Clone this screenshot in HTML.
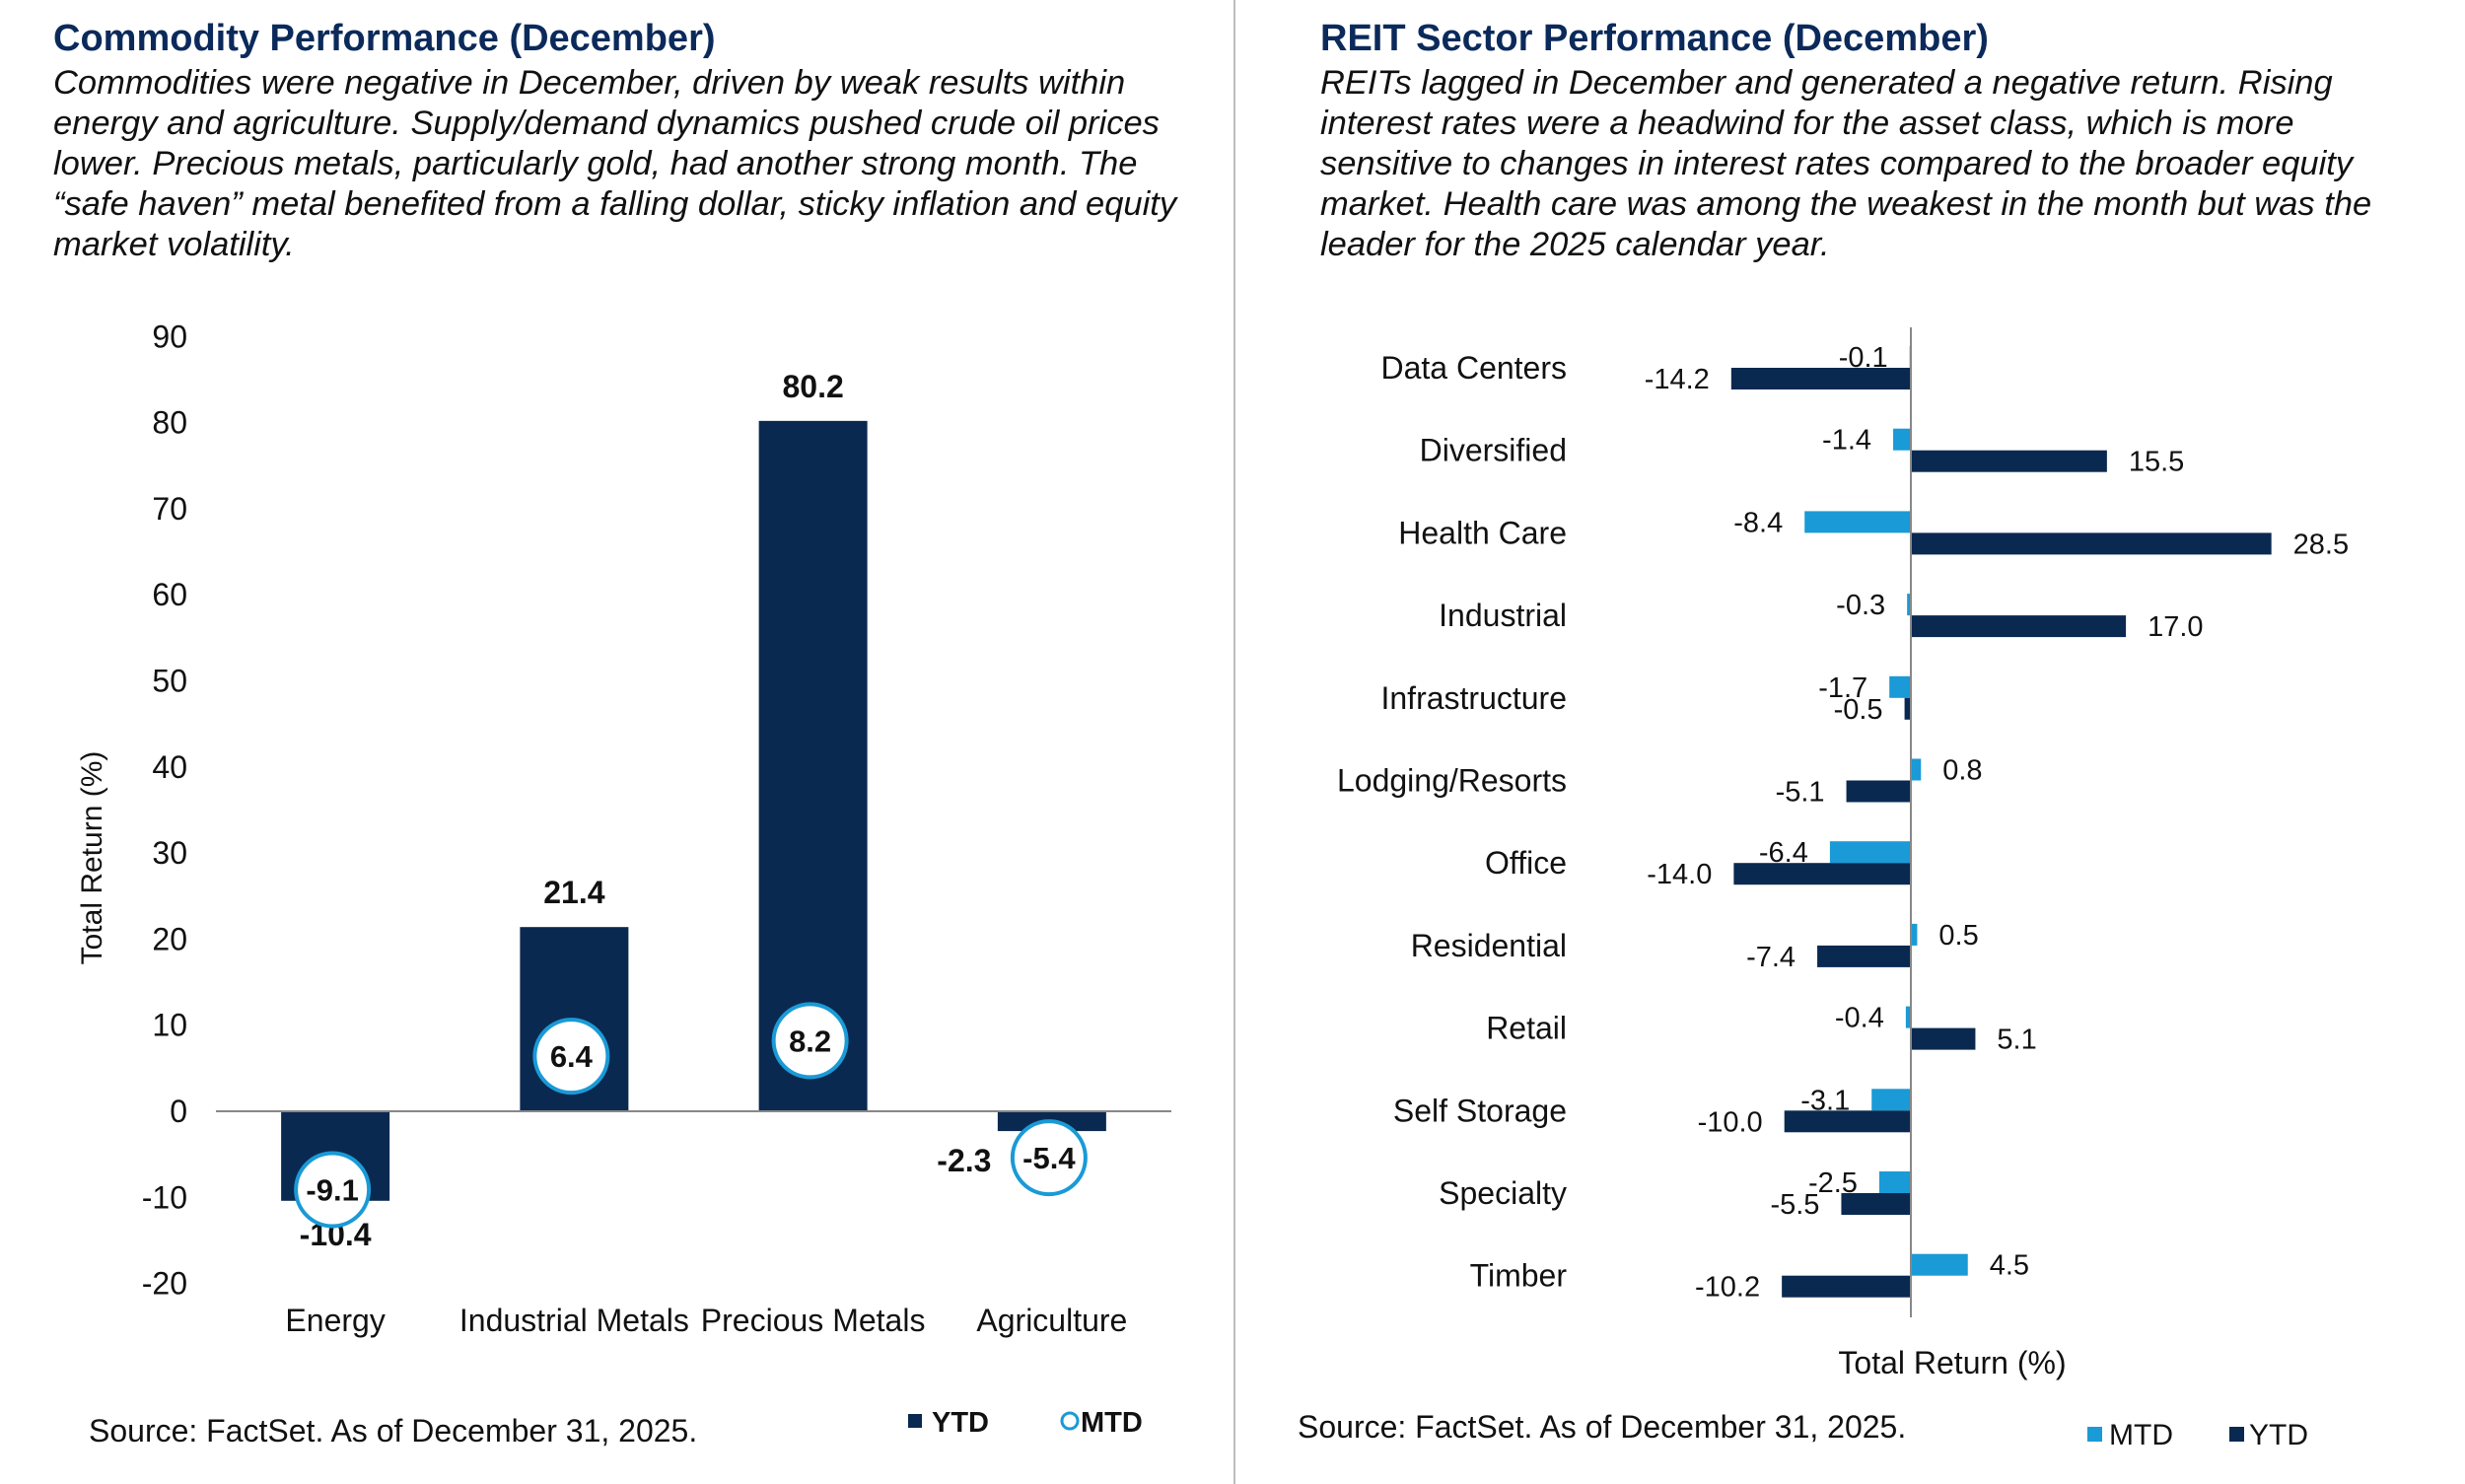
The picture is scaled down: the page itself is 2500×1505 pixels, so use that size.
<!DOCTYPE html>
<html><head><meta charset="utf-8"><style>
html,body{margin:0;padding:0;background:#fff;}
svg{display:block;font-family:"Liberation Sans",Arial,sans-serif;}
</style></head><body>
<svg id="s" width="2500" height="1505" viewBox="0 0 2500 1505" xmlns="http://www.w3.org/2000/svg">
<rect width="2500" height="1505" fill="#fff"/>
<line x1="1252" y1="0" x2="1252" y2="1505" stroke="#bdbdbd" stroke-width="2"/>
<g>
<text x="54" y="51" font-size="38" font-weight="bold" fill="#0b2a5b">Commodity Performance (December)</text>
<g font-size="34.5" font-style="italic" fill="#111">
<text x="54" y="95">Commodities were negative in December, driven by weak results within</text>
<text x="54" y="136">energy and agriculture. Supply/demand dynamics pushed crude oil prices</text>
<text x="54" y="177">lower. Precious metals, particularly gold, had another strong month. The</text>
<text x="54" y="218">“safe haven” metal benefited from a falling dollar, sticky inflation and equity</text>
<text x="54" y="259">market volatility.</text>
</g></g>
<g>
<text x="1339" y="51" font-size="38" font-weight="bold" fill="#0b2a5b">REIT Sector Performance (December)</text>
<g font-size="34.5" font-style="italic" fill="#111">
<text x="1339" y="95">REITs lagged in December and generated a negative return. Rising</text>
<text x="1339" y="136">interest rates were a headwind for the asset class, which is more</text>
<text x="1339" y="177">sensitive to changes in interest rates compared to the broader equity</text>
<text x="1339" y="218">market. Health care was among the weakest in the month but was the</text>
<text x="1339" y="259">leader for the 2025 calendar year.</text>
</g></g>
<g id="left"></g>
<g id="right"></g>
<text x="90" y="1462" font-size="32" fill="#111">Source: FactSet. As of December 31, 2025.</text>
<text x="1316" y="1458" font-size="32" fill="#111">Source: FactSet. As of December 31, 2025.</text>
<g>
<rect x="921" y="1434" width="14" height="14" fill="#0a2950"/>
<text x="945" y="1452" font-size="29" font-weight="bold" fill="#111">YTD</text>
<circle cx="1085" cy="1441" r="8" fill="#fff" stroke="#1a9ad6" stroke-width="3"/>
<text x="1096" y="1452" font-size="29" font-weight="bold" fill="#111">MTD</text>
</g>
<g>
<rect x="2117" y="1447" width="15" height="15" fill="#1a9ad6"/>
<text x="2139" y="1465" font-size="30" fill="#111">MTD</text>
<rect x="2261" y="1447" width="15" height="15" fill="#0a2950"/>
<text x="2281" y="1465" font-size="30" fill="#111">YTD</text>
</g>
</svg>
<script>
const NS="http://www.w3.org/2000/svg";
const comCats=["Energy","Industrial Metals","Precious Metals","Agriculture"];
const comYTD=[-10.4,21.4,80.2,-2.3];
const comMTD=[-9.1,6.4,8.2,-5.4];
const comTicks=[90,80,70,60,50,40,30,20,10,0,-10,-20];
const reitCats=["Data Centers","Diversified","Health Care","Industrial","Infrastructure","Lodging/Resorts","Office","Residential","Retail","Self Storage","Specialty","Timber"];
const reitMTD=[-0.1,-1.4,-8.4,-0.3,-1.7,0.8,-6.4,0.5,-0.4,-3.1,-2.5,4.5];
const reitYTD=[-14.2,15.5,28.5,17.0,-0.5,-5.1,-14.0,-7.4,5.1,-10.0,-5.5,-10.2];

function mk(tag,attrs,parent,txt){const e=document.createElementNS(NS,tag);for(const k in attrs)e.setAttribute(k,attrs[k]);if(txt!==undefined)e.textContent=txt;parent.appendChild(e);return e;}
function fmt(v){return v.toFixed(1);}

// Left chart
const L=document.getElementById('left');
const yL=v=>1127-v*8.73;
const x0L=219,bandL=242.25;
const xc=i=>x0L+bandL*(i+0.5);
comTicks.forEach(t=>{const e=mk('text',{x:190,y:yL(t)+11,'text-anchor':'end','font-size':32,fill:'#111'},L,String(t));

});
const yt=mk('text',{x:0,y:0,transform:'translate(103,870) rotate(-90)','text-anchor':'middle','font-size':30,fill:'#111'},L,'Total Return (%)');


comCats.forEach((c,i)=>{
  const v=comYTD[i];const top=Math.min(yL(v),yL(0));const h=Math.abs(yL(v)-yL(0));
  const b=mk('rect',{x:xc(i)-55,y:top,width:110,height:h,fill:'#0a2950'},L);
  
  
  let lx=xc(i),ly;
  if(v>=0) ly=yL(v)-24; else if(Math.abs(v)<5){lx=xc(i)-89;ly=yL(comMTD[i])+3+11;} else ly=yL(v)+45;
  const t=mk('text',{x:lx,y:ly,'text-anchor':'middle','font-size':32,'font-weight':'bold',fill:'#111'},L,fmt(v));
  
  
  const cl=mk('text',{x:xc(i),y:1350,'text-anchor':'middle','font-size':32,fill:'#111'},L,c);
  
  
});
const ax=mk('line',{x1:219,y1:yL(0),x2:1188,y2:yL(0),stroke:'#888','stroke-width':2},L);


comCats.forEach((c,i)=>{
  const m=comMTD[i];
  const ci=mk('circle',{cx:xc(i)-3,cy:yL(m),r:37,fill:'#fff',stroke:'#1a9ad6','stroke-width':4},L);
  
  
  const t=mk('text',{x:xc(i)-3,y:yL(m)+11,'text-anchor':'middle','font-size':31,'font-weight':'bold',fill:'#111'},L,fmt(m));
  
  
});

// Right chart
const R=document.getElementById('right');
const xR=v=>1938+v*12.83;
const yC=i=>373+i*83.7;
reitCats.forEach((c,i)=>{
  const cl=mk('text',{x:1589,y:yC(i)+11,'text-anchor':'end','font-size':32,fill:'#111'},R,c);
  
  
  [[reitMTD[i],'#1a9ad6',-22,'mtd'],[reitYTD[i],'#0a2950',0,'ytd']].forEach(([v,col,off,nm])=>{
    const x=Math.min(xR(v),xR(0)),w=Math.abs(xR(v)-xR(0));
    const b=mk('rect',{x:x,y:yC(i)+off,width:Math.max(w,2),height:22,fill:col},R);
    
    
    const cy=yC(i)+off+11+10;
    const t=v>=0?mk('text',{x:xR(v)+22,y:cy,'font-size':29,fill:'#111'},R,fmt(v)):mk('text',{x:xR(v)-22,y:cy,'text-anchor':'end','font-size':29,fill:'#111'},R,fmt(v));
    
    
  });
});
const ax2=mk('line',{x1:1938,y1:332,x2:1938,y2:1336,stroke:'#888','stroke-width':2},R);


const xt=mk('text',{x:1980,y:1393,'text-anchor':'middle','font-size':32,fill:'#111'},R,'Total Return (%)');


</script>
</body></html>
